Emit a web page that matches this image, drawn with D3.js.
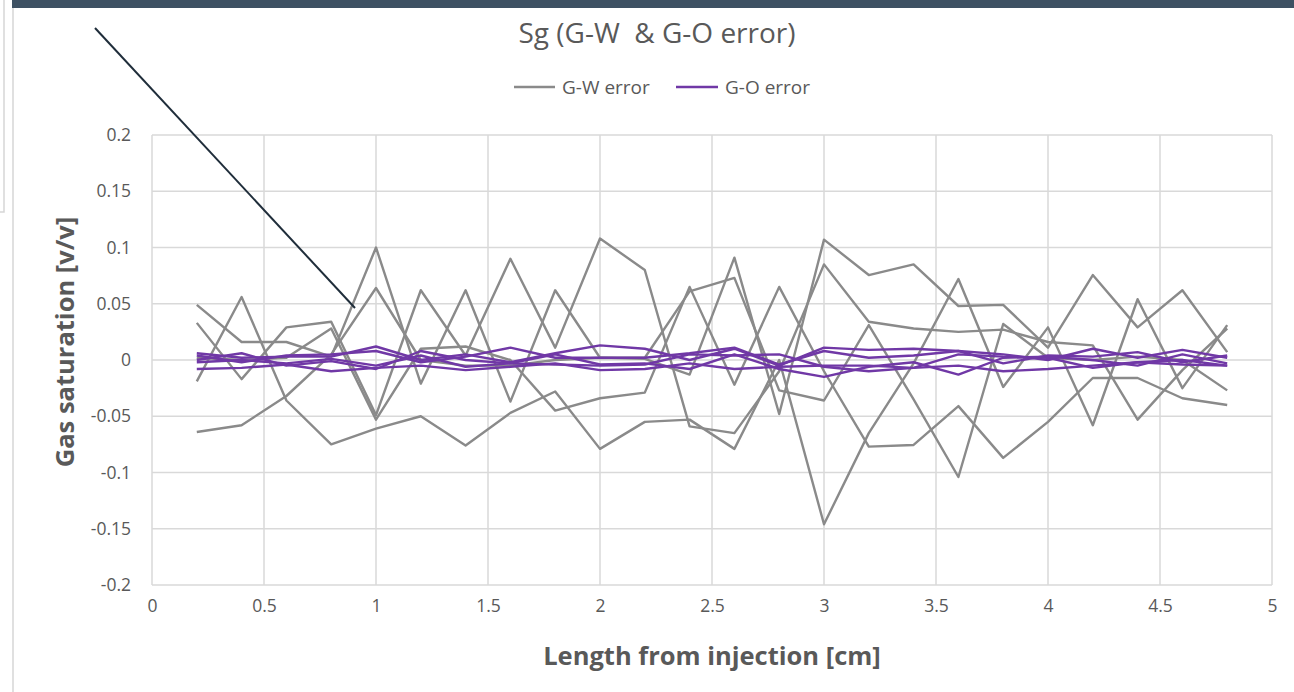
<!DOCTYPE html>
<html>
<head>
<meta charset="utf-8">
<script src="https://cdn.jsdelivr.net/npm/d3@7"></script>
<style>
  html, body { margin: 0; padding: 0; background: #ffffff; }
  svg { display: block; }
  text { font-family: "Open Sans", "Noto Sans", "DejaVu Sans", sans-serif; fill: #595959; }
</style>
</head>
<body>
<svg id="chart" width="1294" height="692"></svg>
<script>
// Positions along the core (cm)
const lengths = [0.2, 0.4, 0.6, 0.8, 1.0, 1.2, 1.4, 1.6, 1.8, 2.0, 2.2, 2.4,
                 2.6, 2.8, 3.0, 3.2, 3.4, 3.6, 3.8, 4.0, 4.2, 4.4, 4.6, 4.8];

// Gas-water saturation error runs
const gwRun1 = [0.002, 0.000, 0.002, 0.028, -0.053, 0.010, 0.012, 0.000, -0.045, -0.034, -0.029, 0.065,
                -0.022, 0.065, -0.010, -0.077, -0.0755, -0.041, -0.087, -0.055, -0.016, -0.016, -0.034, -0.040];
const gwRun2 = [-0.064, -0.058, -0.032, 0.005, 0.064, 0.000, -0.005, -0.005, 0.000, 0.002, 0.001, -0.013,
                0.091, -0.048, 0.107, 0.0755, 0.085, 0.048, 0.049, 0.011, 0.0755, 0.029, 0.062, 0.007];
const gwRun3 = [0.033, -0.017, 0.029, 0.034, -0.049, 0.062, 0.004, 0.090, 0.011, 0.108, 0.080, -0.059,
                -0.065, -0.010, 0.085, 0.034, 0.028, 0.025, 0.027, 0.016, 0.013, -0.053, -0.009, 0.028];
const gwRun4 = [-0.019, 0.056, -0.036, -0.075, -0.061, -0.050, -0.076, -0.047, -0.028, -0.079, -0.055, -0.053,
                -0.079, 0.000, -0.146, -0.065, -0.003, 0.072, -0.024, 0.029, -0.058, 0.054, -0.025, 0.031];
const gwRun5 = [0.049, 0.016, 0.016, 0.003, 0.100, -0.021, 0.062, -0.037, 0.062, 0.002, 0.002, 0.061,
                0.073, -0.027, -0.036, 0.031, -0.035, -0.104, 0.032, 0.002, 0.000, 0.003, 0.000, -0.027];

// Gas-oil saturation error runs
const goRun1 = [0.006, 0.002, 0.003, 0.003, 0.012, 0.000, 0.005, -0.002, 0.006, 0.013, 0.010, 0.000,
                0.010, -0.005, 0.011, 0.009, 0.010, 0.008, 0.005, 0.000, 0.010, 0.002, 0.009, 0.002];
const goRun2 = [0.004, -0.002, 0.004, 0.005, 0.008, -0.002, 0.003, 0.011, 0.002, 0.002, 0.002, 0.006,
                0.011, -0.004, 0.008, 0.002, 0.004, 0.008, -0.003, 0.004, 0.003, 0.007, -0.002, 0.004];
const goRun3 = [0.000, 0.006, -0.005, -0.001, -0.008, 0.008, 0.000, -0.003, -0.004, -0.005, -0.004, 0.005,
                0.004, 0.005, -0.006, -0.010, -0.007, 0.005, 0.003, 0.002, -0.007, -0.002, 0.000, -0.005];
const goRun4 = [-0.002, 0.000, -0.003, 0.001, -0.005, 0.004, -0.006, -0.003, 0.005, -0.004, -0.003, -0.008,
                0.005, -0.008, -0.015, -0.006, -0.002, -0.013, 0.002, 0.003, 0.000, -0.005, 0.005, -0.003];
const goRun5 = [-0.008, -0.007, -0.004, -0.010, -0.007, -0.005, -0.009, -0.006, -0.003, -0.009, -0.008, -0.003,
                -0.008, -0.006, -0.005, -0.005, -0.007, -0.005, -0.010, -0.008, -0.005, -0.002, -0.004, -0.005];

const gwRuns = [gwRun1, gwRun2, gwRun3, gwRun4, gwRun5];
const goRuns = [goRun1, goRun2, goRun3, goRun4, goRun5];

const xTicks = [0, 0.5, 1, 1.5, 2, 2.5, 3, 3.5, 4, 4.5, 5];
const xTickLabels = ["0", "0.5", "1", "1.5", "2", "2.5", "3", "3.5", "4", "4.5", "5"];
const yTicks = [-0.2, -0.15, -0.1, -0.05, 0, 0.05, 0.1, 0.15, 0.2];
const yTickLabels = ["-0.2", "-0.15", "-0.1", "-0.05", "0", "0.05", "0.1", "0.15", "0.2"];

const seriesNames = ["G-W error", "G-O error"];
const seriesColors = ["#8a8a8a", "#7038a6"];

const svg = d3.select("#chart");
const W = 1294, H = 692;
const plot = { left: 152, right: 1272, top: 135, bottom: 585 };

const x = d3.scaleLinear().domain([0, 5]).range([plot.left, plot.right]);
const y = d3.scaleLinear().domain([-0.2, 0.2]).range([plot.bottom, plot.top]);

// Window chrome: dark band along the top and framed panels
svg.append("rect").attr("x", 12).attr("y", 0).attr("width", W - 12).attr("height", 8).attr("fill", "#3e5163");
svg.append("line").attr("x1", 13).attr("x2", 13).attr("y1", 8).attr("y2", H)
  .attr("stroke", "#d6d6d6").attr("stroke-width", 1.5);
svg.append("path").attr("d", "M4,0 V212 H0").attr("fill", "none")
  .attr("stroke", "#d6d6d6").attr("stroke-width", 1.5);

// Gridlines
const grid = svg.append("g");
grid.selectAll("line.gx").data(xTicks).join("line")
  .attr("x1", d => x(d)).attr("x2", d => x(d))
  .attr("y1", plot.top).attr("y2", plot.bottom)
  .attr("stroke", "#d9d9d9").attr("stroke-width", 1.5);
grid.selectAll("line.gy").data(yTicks).join("line")
  .attr("x1", plot.left).attr("x2", plot.right)
  .attr("y1", d => y(d)).attr("y2", d => y(d))
  .attr("stroke", "#d9d9d9").attr("stroke-width", 1.5);

// Axis tick labels
const tickFont = '"Open Sans", "Noto Sans", sans-serif';
const xAxis = d3.axisBottom(x).tickValues(xTicks).tickFormat((d, i) => xTickLabels[i]).tickSize(0).tickPadding(15);
const gx = svg.append("g").attr("transform", `translate(0,${plot.bottom})`).call(xAxis);
gx.select(".domain").remove();
gx.selectAll("text").style("font-size", "17.5px").style("fill", "#595959").style("font-family", tickFont);

const yAxis = d3.axisLeft(y).tickValues(yTicks).tickFormat((d, i) => yTickLabels[i]).tickSize(0).tickPadding(21);
const gy = svg.append("g").attr("transform", `translate(${plot.left},0)`).call(yAxis);
gy.select(".domain").remove();
gy.selectAll("text").style("font-size", "17.5px").style("fill", "#595959").style("font-family", tickFont);

// Series lines
const line = d3.line().x((d, i) => x(lengths[i])).y(d => y(d));
svg.append("g").selectAll("path").data(gwRuns).join("path")
  .attr("d", line).attr("fill", "none")
  .attr("stroke", seriesColors[0]).attr("stroke-width", 2.4).attr("stroke-linejoin", "round");
svg.append("g").selectAll("path").data(goRuns).join("path")
  .attr("d", line).attr("fill", "none")
  .attr("stroke", seriesColors[1]).attr("stroke-width", 2.4).attr("stroke-linejoin", "round");

// Title
svg.append("text").attr("x", 657).attr("y", 43).attr("text-anchor", "middle")
  .style("font-size", "28px").style("fill", "#595959")
  .attr("xml:space", "preserve")
  .text("Sg (G-W  & G-O error)");

// Legend
const legend = svg.append("g");
const legendItems = [{ x1: 514, x2: 555, tx: 562 }, { x1: 676, x2: 718, tx: 725 }];
legendItems.forEach((it, i) => {
  legend.append("line").attr("x1", it.x1).attr("x2", it.x2).attr("y1", 87).attr("y2", 87)
    .attr("stroke", seriesColors[i]).attr("stroke-width", 2.4);
  legend.append("text").attr("x", it.tx).attr("y", 94).style("font-size", "19px")
    .text(seriesNames[i]);
});

// Axis titles
svg.append("text").attr("x", 712).attr("y", 665).attr("text-anchor", "middle")
  .style("font-size", "25.5px").style("font-weight", "bold")
  .text("Length from injection [cm]");
svg.append("text").attr("transform", "translate(74,342) rotate(-90)").attr("text-anchor", "middle")
  .style("font-size", "25.5px").style("font-weight", "bold")
  .text("Gas saturation [v/v]");

// Annotation arrow stroke
svg.append("line").attr("x1", 95).attr("y1", 28).attr("x2", 355).attr("y2", 308)
  .attr("stroke", "#1f2d3a").attr("stroke-width", 2);
</script>
</body>
</html>
